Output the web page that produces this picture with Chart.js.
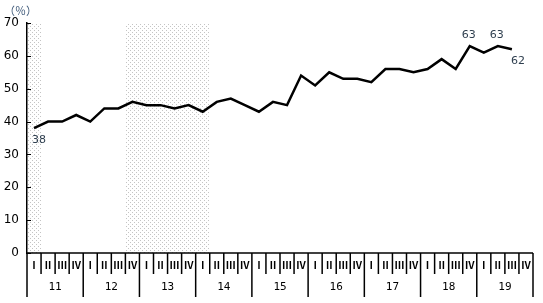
<!DOCTYPE html>
<html lang="ja">
<head>
<meta charset="UTF-8">
<title>Quarterly ratio</title>
<script src="https://cdn.jsdelivr.net/npm/chart.js"></script>
<style>
    body { margin: 0; background: #fff; }
    #wrap { width: 543px; height: 303px; }
</style>
</head>
<body>
<div id="wrap"><canvas id="chart" width="543" height="303"></canvas></div>
<script>
// years shown under the axis, quarters within each year
const years = ['11', '12', '13', '14', '15', '16', '17', '18', '19'];
const quarters = ['Ⅰ', 'Ⅱ', 'Ⅲ', 'Ⅳ'];
// values per quarter, 2011 Q1 .. 2019 Q3
const values = [
    38, 40, 40, 42,
    40, 44, 44, 46,
    45, 45, 44, 45,
    43, 46, 47, 45,
    43, 46, 45, 54,
    51, 55, 53, 53,
    52, 56, 56, 55,
    56, 59, 56, 63,
    61, 63, 62
];
// shaded periods (first and last quarter index, inclusive)
const shadeFrom = [0, 7];
const shadeTo = [0, 12];
// labelled points: index, position
const labelIdx = [0, 31, 33, 34];
const labelPos = ['below', 'above', 'above', 'belowRight'];

const labels = [];
years.forEach(y => quarters.forEach(q => labels.push(y + q)));

function dotPattern() {
    const c = document.createElement('canvas');
    c.width = 4; c.height = 4;
    const g = c.getContext('2d');
    g.fillStyle = '#fff';
    g.fillRect(0, 0, 4, 4);
    g.fillStyle = '#c4c4c4';
    g.fillRect(0, 0, 1, 1);
    g.fillRect(2, 2, 1, 1);
    return g.createPattern(c, 'repeat');
}

const shadePlugin = {
    id: 'shade',
    beforeDatasetsDraw(chart) {
        const { ctx, chartArea, scales: { x } } = chart;
        const half = (x.getPixelForValue(1) - x.getPixelForValue(0)) / 2;
        ctx.save();
        ctx.fillStyle = dotPattern();
        for (let i = 0; i < shadeFrom.length; i++) {
            const l = Math.max(x.getPixelForValue(shadeFrom[i]) - half, chartArea.left + 1);
            const r = x.getPixelForValue(shadeTo[i]) + half;
            ctx.fillRect(l, chartArea.top, r - l, chartArea.bottom - chartArea.top);
        }
        ctx.restore();
    }
};

const axisPlugin = {
    id: 'axisLabels',
    afterDraw(chart) {
        const { ctx, chartArea, scales: { x, y } } = chart;
        const half = (x.getPixelForValue(1) - x.getPixelForValue(0)) / 2;
        const bottom = chartArea.bottom;
        ctx.save();
        ctx.strokeStyle = '#000';
        ctx.lineWidth = 1.5;

        // x axis baseline
        ctx.beginPath();
        ctx.moveTo(chartArea.left, bottom);
        ctx.lineTo(chartArea.right, bottom);
        ctx.stroke();

        // y ticks pointing inward
        ctx.lineWidth = 1;
        for (let v = 0; v <= 70; v += 10) {
            const py = Math.round(y.getPixelForValue(v)) + 0.5;
            ctx.beginPath();
            ctx.moveTo(chartArea.left, py);
            ctx.lineTo(chartArea.left + 4, py);
            ctx.stroke();
        }

        // quarter dividers and year dividers
        ctx.lineWidth = 1.5;
        for (let i = 0; i <= labels.length; i++) {
            const px = i < labels.length ? x.getPixelForValue(i) - half : x.getPixelForValue(labels.length - 1) + half;
            const isYear = i % 4 === 0;
            ctx.beginPath();
            ctx.moveTo(px, bottom);
            ctx.lineTo(px, isYear ? bottom + 44 : bottom + 21);
            ctx.stroke();
        }

        // quarter labels
        ctx.fillStyle = '#000';
        ctx.textAlign = 'center';
        ctx.textBaseline = 'middle';
        ctx.font = 'bold 10px "Noto Sans CJK JP", "DejaVu Serif", serif';
        labels.forEach((lab, i) => {
            ctx.fillText(quarters[i % 4], x.getPixelForValue(i), bottom + 12);
        });

        // year labels
        ctx.font = '11px "DejaVu Sans Mono", monospace';
        years.forEach((yr, k) => {
            const l = x.getPixelForValue(k * 4) - half;
            const r = x.getPixelForValue(k * 4 + 3) + half;
            ctx.fillText(yr, (l + r) / 2, bottom + 34);
        });

        // unit label
        ctx.textAlign = 'left';
        ctx.fillStyle = '#3d5878';
        ctx.font = '11px "Noto Sans CJK JP", sans-serif';
        ctx.fillText('（％）', 4, 11);

        // data labels
        ctx.fillStyle = '#2f3f4f';
        ctx.font = '11px "DejaVu Sans", sans-serif';
        labelIdx.forEach((idx, k) => {
            const px = x.getPixelForValue(idx);
            const py = y.getPixelForValue(values[idx]);
            const txt = String(values[idx]);
            if (labelPos[k] === 'below') {
                ctx.textAlign = 'left';
                ctx.fillText(txt, px - 2, py + 12);
            } else if (labelPos[k] === 'above') {
                ctx.textAlign = 'center';
                ctx.fillText(txt, px - 1, py - 11);
            } else {
                ctx.textAlign = 'left';
                ctx.fillText(txt, px - 1, py + 12);
            }
        });
        ctx.restore();
    }
};

new Chart(document.getElementById('chart').getContext('2d'), {
    type: 'line',
    data: {
        labels: labels,
        datasets: [{
            data: values,
            borderColor: '#000',
            borderWidth: 2.5,
            pointRadius: 0,
            tension: 0,
            fill: false
        }]
    },
    options: {
        responsive: false,
        animation: false,
        layout: { padding: { top: 23, right: 10, left: 0, bottom: 0 } },
        plugins: { legend: { display: false }, tooltip: { enabled: false } },
        scales: {
            x: {
                offset: true,
                grid: { display: false, drawTicks: false },
                border: { display: false },
                ticks: { display: false },
                afterFit(scale) { scale.height = 50; }
            },
            y: {
                min: 0,
                max: 70,
                ticks: {
                    stepSize: 10,
                    color: '#000',
                    padding: 8,
                    font: { family: '"DejaVu Sans", sans-serif', size: 12 }
                },
                grid: { display: false, drawTicks: false },
                border: { display: true, color: '#000', width: 1.5 },
                afterFit(scale) { scale.width = 27; }
            }
        }
    },
    plugins: [shadePlugin, axisPlugin]
});
</script>
</body>
</html>
